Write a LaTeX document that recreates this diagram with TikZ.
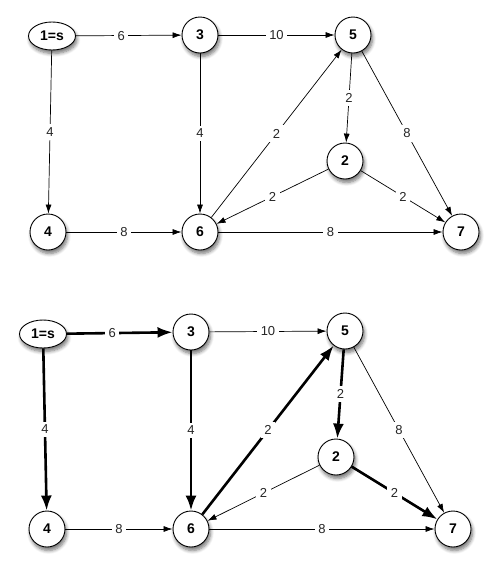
\documentclass[tikz,border=0pt]{standalone}
\usepackage{fontspec}
\setmainfont{Liberation Sans}
\usetikzlibrary{arrows.meta,shadows.blur,shapes.geometric}
\begin{document}
\begin{tikzpicture}[x=1pt,y=-1pt,
  vert/.style={circle,draw=black,line width=0.9pt,fill=white,minimum size=36pt,inner sep=0pt,
    font=\fontsize{14}{14}\selectfont\bfseries,
    blur shadow={shadow xshift=1.5pt,shadow yshift=-3.5pt,shadow blur steps=6,shadow opacity=55,shadow blur radius=3.5pt}},
  src/.style={vert,ellipse,minimum width=47pt,minimum height=28pt},
  thin/.style={draw,line width=0.7pt,-{Latex[length=9pt,width=6pt]}},
  bold/.style={draw,line width=2.6pt,-{Latex[length=15pt,width=11pt]}},
  lab/.style={fill=white,inner sep=3.5pt,font=\fontsize{13}{13}\selectfont,text=black!85}]
\useasboundingbox (0,0) rectangle (499,571);
% top graph
\node[src] (a1) at (52,36) {1=s};
\node[vert] (a3) at (200,35) {3};
\node[vert] (a5) at (353,35) {5};
\node[vert] (a2) at (345,161) {2};
\node[vert] (a4) at (48,232) {4};
\node[vert] (a6) at (200,232) {6};
\node[vert] (a7) at (461,232) {7};
\draw[thin] (a1) -- node[lab,pos=0.43]{6} (a3);
\draw[thin] (a3) -- node[lab]{10} (a5);
\draw[thin] (a1) -- node[lab]{4} (a4);
\draw[thin] (a3) -- node[lab]{4} (a6);
\draw[thin] (a4) -- node[lab]{8} (a6);
\draw[thin] (a6) -- node[lab]{2} (a5);
\draw[thin] (a5) -- node[lab]{2} (a2);
\draw[thin] (a2) -- node[lab]{2} (a6);
\draw[thin] (a2) -- node[lab]{2} (a7);
\draw[thin] (a5) -- node[lab]{8} (a7);
\draw[thin] (a6) -- node[lab]{8} (a7);
% bottom graph
\node[src] (b1) at (43,334) {1=s};
\node[vert] (b3) at (191,332) {3};
\node[vert] (b5) at (345,331) {5};
\node[vert] (b2) at (336,457) {2};
\node[vert] (b4) at (47,529) {4};
\node[vert] (b6) at (191,529) {6};
\node[vert] (b7) at (453,529) {7};
\draw[bold] (b1) -- node[lab,pos=0.43]{6} (b3);
\draw[thin] (b3) -- node[lab]{10} (b5);
\draw[bold] (b1) -- node[lab]{4} (b4);
\draw[bold] (b3) -- node[lab]{4} (b6);
\draw[thin] (b4) -- node[lab]{8} (b6);
\draw[bold] (b6) -- node[lab]{2} (b5);
\draw[bold] (b5) -- node[lab]{2} (b2);
\draw[thin] (b2) -- node[lab]{2} (b6);
\draw[bold] (b2) -- node[lab]{2} (b7);
\draw[thin] (b5) -- node[lab]{8} (b7);
\draw[thin] (b6) -- node[lab]{8} (b7);
\end{tikzpicture}
\end{document}
